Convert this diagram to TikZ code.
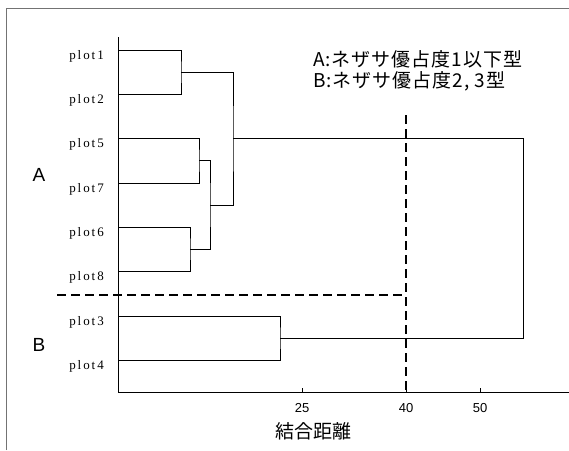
\documentclass[tikz,border=0pt]{standalone}
\usepackage{fontspec}
\setmainfont{Liberation Serif}
\newfontfamily\jpfont[LetterSpace=5]{Noto Sans CJK JP}
\newfontfamily\jptitle{Noto Sans CJK JP}
\newfontfamily\labfont[LetterSpace=15]{Liberation Serif}
\newfontfamily\sansfont{Liberation Sans}
\usetikzlibrary{calc}
\begin{document}
\begin{tikzpicture}[x=1pt,y=-1pt,
  frame/.style={draw=black!55, line width=1pt},
  link/.style={draw=black, line width=0.9pt},
  cut/.style={draw=black, line width=2.4pt, dash pattern=on 9pt off 5pt},
  leaflabel/.style={anchor=base east, inner sep=0pt, font=\labfont\fontsize{13}{13}\selectfont},
  grp/.style={inner sep=0pt, font=\sansfont\fontsize{19}{19}\selectfont},
  ticklab/.style={inner sep=0pt, font=\sansfont\fontsize{13}{13}\selectfont},
  legend/.style={anchor=north west, inner sep=0pt, align=left, font=\jpfont\fontsize{19}{21}\selectfont},
  axtitle/.style={inner sep=0pt, font=\jptitle\fontsize{19}{19}\selectfont}]
\useasboundingbox (0,0) rectangle (569,450);
% outer frame (open at bottom and right)
\draw[frame] (6,450) -- (6,8) -- (569,8);
% axes
\coordinate (o) at (118,392);
\coordinate (ytop) at (118,37);
\coordinate (xend) at (569,392);
\draw[link] (ytop) -- (o) -- (xend);
\foreach \x/\v [count=\i] in {302/25,406/40,480/50}{
  \coordinate (t\i) at (\x,392);
  \draw[link] (t\i) -- ++(0,-4);
  \node[ticklab] (tl\i) at (\x,408) {\v};
}
% leaves
\foreach \n/\y in {1/50,2/94,5/138,7/183,6/227,8/271,3/316,4/360}{
  \coordinate (l\n) at (118,\y);
  \node[leaflabel] (lab\n) at (104,\y+9) {plot\n};
}
% merge points
\coordinate (k12) at (181,72);
\coordinate (k57) at (199,160.5);
\coordinate (k68) at (190,249);
\coordinate (k5768) at (210,205);
\coordinate (kA) at (233,138.5);
\coordinate (k34) at (280,338);
\coordinate (kR) at (523,240);
\draw[link] (l1) -| (k12) |- (l2);
\draw[link] (l5) -| (k57) |- (l7);
\draw[link] (l6) -| (k68) |- (l8);
\draw[link] (k57) -| (k5768) |- (k68);
\draw[link] (k12) -| (kA) |- (k5768);
\draw[link] (l3) -| (k34) |- (l4);
\draw[link] (kA) -| (kR) |- (k34);
% cut lines
\coordinate (cv1) at (406,115);
\coordinate (cv2) at (406,392);
\coordinate (ch1) at (57,295);
\coordinate (ch2) at (406,295);
\draw[cut] (cv1) -- (cv2);
\draw[cut] (ch1) -- (ch2);
% group labels
\node[grp] (gA) at (39,175) {A};
\node[grp] (gB) at (39,345) {B};
% legend
\node[legend] (leg) at (313,50) {A:ネザサ優占度1以下型\\B:ネザサ優占度2, 3型};
% axis title
\node[axtitle] (xt) at (313,431) {結合距離};
\end{tikzpicture}
\end{document}
